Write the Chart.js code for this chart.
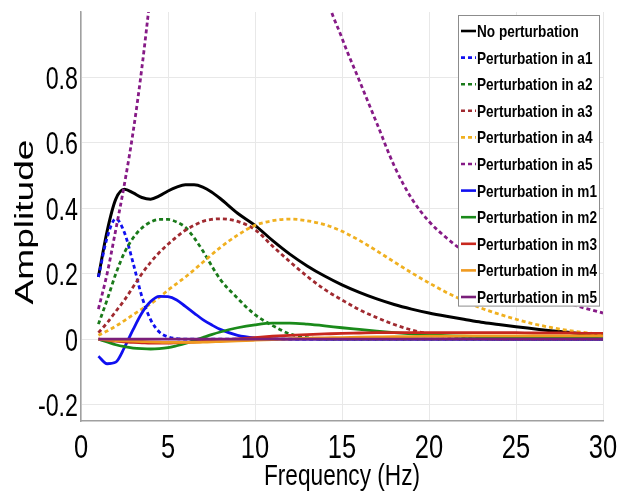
<!DOCTYPE html>
<html><head><meta charset="utf-8">
<script src="https://cdn.jsdelivr.net/npm/chart.js@4.4.1/dist/chart.umd.min.js"></script>
<style>html,body{margin:0;padding:0;background:#fff;}#wrap{width:630px;height:493px;position:relative;}</style>
</head><body><div id="wrap"><canvas id="c"></canvas></div>
<script>
// ---- data ----
const frequencyHz = [1,1.5,2,2.5,3,3.5,4,4.5,5,5.5,6,6.5,7,7.5,8,9,10,11,12,13,14,15,16,17,18,19,20,21,22,23,24,25,26,27,28,29,30];
const noPerturbation = [0.19,0.33,0.428,0.458,0.447,0.433,0.428,0.438,0.453,0.465,0.472,0.472,0.465,0.45,0.43,0.385,0.348,0.302,0.26,0.224,0.193,0.166,0.143,0.123,0.106,0.092,0.08,0.07,0.061,0.052,0.045,0.038,0.032,0.026,0.021,0.016,0.012];
const pertA1 = [0.19,0.31,0.368,0.325,0.232,0.13,0.06,0.022,0.007,0.002,0,0,0,0,0,0,0,0,0,0,0,0,0,0,0,0,0,0,0,0,0,0,0,0,0,0,0];
const pertA2 = [0.046,0.12,0.2,0.265,0.31,0.34,0.358,0.366,0.366,0.358,0.342,0.31,0.27,0.225,0.183,0.125,0.075,0.042,0.016,0.005,0,0,0,0,0,0,0,0,0,0,0,0,0,0,0,0,0];
const pertA3 = [0.02,0.05,0.085,0.12,0.16,0.2,0.235,0.265,0.29,0.313,0.333,0.348,0.36,0.366,0.368,0.36,0.335,0.285,0.237,0.192,0.152,0.12,0.09,0.066,0.045,0.028,0.016,0.008,0.004,0.002,0,0,0,0,0,0,0];
const pertA4 = [0.012,0.025,0.04,0.057,0.075,0.092,0.108,0.128,0.15,0.17,0.19,0.212,0.235,0.258,0.28,0.318,0.348,0.362,0.367,0.362,0.35,0.33,0.302,0.27,0.236,0.203,0.172,0.143,0.118,0.095,0.077,0.061,0.047,0.036,0.027,0.02,0.014];
const pertA5 = [0.092,0.2,0.335,0.475,0.635,0.83,1.06,1.32,1.6,1.9,2.2,2.45,2.7,2.9,3.0,3.05,2.85,2.4,1.9,1.45,1.08,0.92,0.79,0.66,0.53,0.43,0.36,0.31,0.268,0.232,0.2,0.172,0.148,0.128,0.11,0.094,0.08];
const pertM1 = [-0.052,-0.075,-0.07,-0.025,0.03,0.08,0.115,0.131,0.13,0.12,0.1,0.08,0.06,0.044,0.03,0.012,0.004,0.001,0,0,0,0,0,0,0,0,0,0,0,0,0,0,0,0,0,0,0];
const pertM2 = [0,-0.008,-0.017,-0.023,-0.027,-0.029,-0.03,-0.029,-0.026,-0.02,-0.013,-0.004,0.005,0.014,0.022,0.035,0.044,0.049,0.049,0.046,0.041,0.035,0.03,0.025,0.02,0.016,0.013,0.011,0.009,0.008,0.006,0.005,0.004,0.004,0.003,0.003,0.002];
const pertM3 = [0,-0.003,-0.006,-0.008,-0.01,-0.011,-0.012,-0.012,-0.012,-0.011,-0.01,-0.009,-0.007,-0.005,-0.003,0.001,0.005,0.009,0.012,0.014,0.016,0.018,0.019,0.02,0.02,0.02,0.02,0.02,0.02,0.02,0.02,0.02,0.019,0.019,0.019,0.018,0.018];
const pertM4 = [0,-0.002,-0.004,-0.005,-0.006,-0.007,-0.008,-0.009,-0.01,-0.01,-0.01,-0.01,-0.009,-0.008,-0.007,-0.005,-0.003,-0.001,0.001,0.003,0.004,0.005,0.006,0.007,0.008,0.008,0.009,0.009,0.01,0.01,0.01,0.01,0.01,0.01,0.01,0.01,0.01];
const pertM5 = [0,0,0,0,0,0,0,0,0,0,0,0,0,0,0,0,0,0,0,0,0,0,0,0,0,0,0,0,0,0,0,0,0,0,0,0,0];
const seriesLabels = ['No perturbation','Perturbation in a1','Perturbation in a2','Perturbation in a3','Perturbation in a4','Perturbation in a5','Perturbation in m1','Perturbation in m2','Perturbation in m3','Perturbation in m4','Perturbation in m5'];
const xTickValues = [0,5,10,15,20,25,30];
const yTickValues = [-0.2,0,0.2,0.4,0.6,0.8];
const xAxisTitle = 'Frequency (Hz)';
const yAxisTitle = 'Amplitude';

// ---- styles ----
const seriesValues = [noPerturbation,pertA1,pertA2,pertA3,pertA4,pertA5,pertM1,pertM2,pertM3,pertM4,pertM5];
const seriesColors = ['#000000','#1010f0','#1a7a1a','#a02a30','#f0b020','#861a86','#1010f0','#1a8a1a','#c8281e','#f09a20','#7a1f7a'];
const dotted = [false,true,true,true,true,true,false,false,false,false,false];
const FONT = '"Liberation Sans",Arial,sans-serif';
const fmtY = v => v === 0 ? '0' : Number(v).toFixed(1);

const datasets = seriesValues.map((vals,i)=>({
  label: seriesLabels[i],
  data: frequencyHz.map((f,j)=>({x:f,y:vals[j]})),
  borderColor: seriesColors[i],
  backgroundColor: seriesColors[i],
  borderWidth: i===0 ? 3 : 2.8,
  borderDash: dotted[i] ? [4,3] : [],
  pointRadius: 0,
  fill: false,
  cubicInterpolationMode: 'monotone',
  order: seriesValues.length - i
}));

const boxLegend = {
  id:'boxLegend',
  afterDatasetsDraw(chart){
    const {ctx, chartArea:a} = chart;
    const ds = chart.data.datasets;
    const right = a.right - 3, top = a.top + 3, w = 142, rowH = 26.6;
    const left = right - w, h = rowH*ds.length - 1;
    ctx.save();
    ctx.fillStyle = '#fff';
    ctx.fillRect(left, top, w, h);
    ctx.strokeStyle = '#8c8c8c'; ctx.lineWidth = 1;
    ctx.strokeRect(left+0.5, top+0.5, w-1, h-1);
    ctx.font = 'bold 17px ' + FONT;
    const sx = 120 / ctx.measureText('Perturbation in m2').width;
    ds.forEach((d,i)=>{
      const cy = top + 16 + i*rowH;
      ctx.beginPath();
      ctx.setLineDash(d.borderDash||[]);
      ctx.strokeStyle = d.borderColor; ctx.lineWidth = 2.6;
      ctx.moveTo(left+3, cy); ctx.lineTo(left+18, cy); ctx.stroke();
      ctx.setLineDash([]);
      ctx.save();
      ctx.translate(left+19, cy + 6);
      ctx.scale(sx,1);
      ctx.fillStyle = '#000'; ctx.textBaseline = 'alphabetic'; ctx.textAlign='left';
      ctx.fillText(d.label, 0, 0);
      ctx.restore();
    });
    ctx.restore();
  }
};

const axisText = {
  id:'axisText',
  afterDraw(chart){
    const {ctx, chartArea:a} = chart;
    const xs = chart.scales.x, ys = chart.scales.y;
    ctx.save();
    ctx.fillStyle = '#000';
    ctx.textBaseline = 'alphabetic';
    // y tick labels
    ctx.font = '31px ' + FONT; ctx.textAlign = 'right';
    ys.ticks.forEach(t=>{
      const y = ys.getPixelForValue(t.value);
      ctx.save(); ctx.translate(a.left - 3, y + 11.5); ctx.scale(0.75,1);
      ctx.fillText(fmtY(t.value), 0, 0); ctx.restore();
    });
    // x tick labels
    ctx.font = '34px ' + FONT; ctx.textAlign = 'center';
    xs.ticks.forEach(t=>{
      const x = xs.getPixelForValue(t.value);
      ctx.save(); ctx.translate(x, a.bottom + 37); ctx.scale(0.75,1);
      ctx.fillText(String(t.value), 0, 0); ctx.restore();
    });
    // x title
    ctx.font = '30px ' + FONT;
    let w = ctx.measureText(xAxisTitle).width;
    ctx.save(); ctx.translate((a.left+a.right)/2, 485); ctx.scale(156/w, 1);
    ctx.fillText(xAxisTitle, 0, 0); ctx.restore();
    // y title
    ctx.font = '25px ' + FONT;
    w = ctx.measureText(yAxisTitle).width;
    ctx.save(); ctx.translate(33, 222); ctx.rotate(-Math.PI/2); ctx.scale(165/w, 1);
    ctx.fillText(yAxisTitle, 0, 0); ctx.restore();
    ctx.restore();
  }
};

new Chart(document.getElementById('c'), {
  type:'line',
  data:{datasets},
  options:{
    responsive:true, maintainAspectRatio:false, animation:false, devicePixelRatio:1,
    layout:{padding:{left:0,right:27,top:12,bottom:0}},
    plugins:{legend:{display:false}, tooltip:{enabled:false}},
    scales:{
      x:{type:'linear', min:0, max:30,
        afterBuildTicks(s){ s.ticks = xTickValues.map(v=>({value:v})); },
        afterFit(s){ s.height = 72; },
        ticks:{display:false},
        grid:{color:'#e8e8e8', lineWidth:1, drawTicks:false},
        border:{color:'#a0a0a0', width:1.5}
      },
      y:{type:'linear', min:-0.25, max:1.0,
        afterBuildTicks(s){ s.ticks = yTickValues.map(v=>({value:v})); },
        afterFit(s){ s.width = 81; },
        ticks:{display:false},
        grid:{color:'#e8e8e8', lineWidth:1, drawTicks:false},
        border:{color:'#a0a0a0', width:1.5}
      }
    }
  },
  plugins:[boxLegend, axisText]
});
</script></body></html>
